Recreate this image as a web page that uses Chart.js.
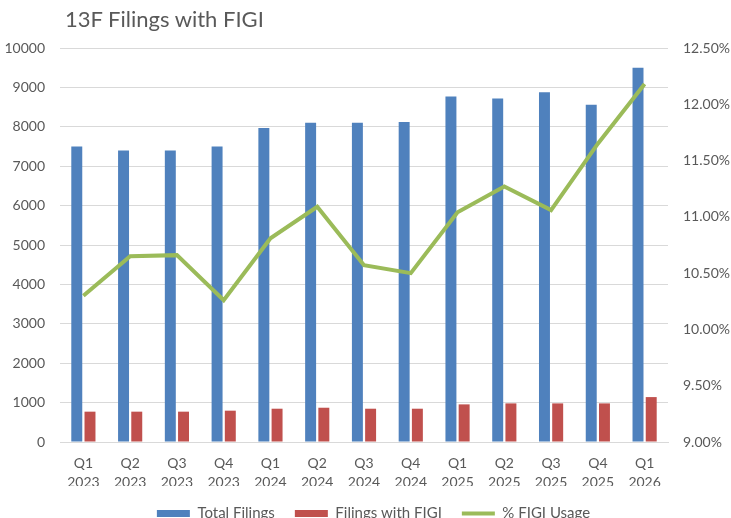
<!DOCTYPE html>
<html>
<head>
<meta charset="utf-8">
<script src="https://cdn.jsdelivr.net/npm/chart.js@4"></script>
<style>
  html, body { margin: 0; padding: 0; background: #fff; }
  #wrap { position: relative; width: 731px; height: 518px; overflow: hidden; }
  #title {
    position: absolute; left: 65px; top: 5px;
    font-family: Lato, sans-serif; font-size: 22px; color: #595959;
  }
  #chart { position: absolute; left: 0; top: 0; }
</style>
</head>
<body>
<div id="wrap">
  <canvas id="chart" width="731" height="518"></canvas>
  <div id="title">13F Filings with FIGI</div>
</div>
<script>
const quarters = [
    ['Q1', '2023'], ['Q2', '2023'], ['Q3', '2023'], ['Q4', '2023'],
    ['Q1', '2024'], ['Q2', '2024'], ['Q3', '2024'], ['Q4', '2024'],
    ['Q1', '2025'], ['Q2', '2025'], ['Q3', '2025'], ['Q4', '2025'],
    ['Q1', '2026']
];
const totalFilings = [7500, 7400, 7400, 7500, 7970, 8100, 8100, 8120, 8770, 8720, 8880, 8560, 9500];
const figiFilings = [770, 770, 770, 795, 845, 870, 845, 845, 955, 980, 980, 980, 1140];
const figiUsage = [10.30, 10.65, 10.66, 10.26, 10.81, 11.09, 10.57, 10.50, 11.04, 11.27, 11.06, 11.65, 12.18];

const grey = '#595959';
const font = { family: 'Lato, sans-serif', size: 14 };

// nudge the legend a bit to the right, like the original
const legendShift = {
    id: 'legendShift',
    afterLayout(chart) {
        chart.legend.left += 16;
    }
};

function createFigiChart() {
    const chart = document.getElementById('chart');
    new Chart(chart, {
        type: 'bar',
        data: {
            labels: quarters,
            datasets: [{
                label: 'Total Filings',
                data: totalFilings,
                backgroundColor: '#4F81BD',
                borderWidth: 0,
                pointStyle: 'rect',
                yAxisID: 'y',
                order: 1
            }, {
                label: 'Filings with FIGI',
                data: figiFilings,
                backgroundColor: '#C0504D',
                borderWidth: 0,
                pointStyle: 'rect',
                yAxisID: 'y',
                order: 1
            }, {
                type: 'line',
                label: '% FIGI Usage',
                data: figiUsage,
                borderColor: '#9BBB59',
                backgroundColor: '#9BBB59',
                borderWidth: 4,
                pointRadius: 0,
                pointStyle: 'line',
                tension: 0,
                yAxisID: 'y1',
                order: 0
            }]
        },
        options: {
            responsive: false,
            animation: false,
            layout: {
                padding: { top: 48, bottom: -13 }
            },
            datasets: {
                bar: {
                    categoryPercentage: 0.565,
                    barPercentage: 0.83
                }
            },
            scales: {
                x: {
                    grid: { display: false, drawTicks: false },
                    border: { color: '#d9d9d9' },
                    ticks: { color: grey, font: { ...font, lineHeight: 1.35 }, padding: 12, maxRotation: 0 },
                    afterFit: (s) => { s.height = 44; }
                },
                y: {
                    position: 'left',
                    min: 0,
                    max: 10000,
                    grid: { color: '#d9d9d9', drawTicks: false },
                    border: { display: false },
                    ticks: { stepSize: 1000, color: grey, font: font, padding: 15, callback: (v) => String(v) },
                    afterFit: (s) => { s.width = 60; }
                },
                y1: {
                    position: 'right',
                    min: 9,
                    max: 12.5,
                    grid: { display: false, drawTicks: false },
                    border: { display: false },
                    ticks: {
                        stepSize: 0.5,
                        color: grey,
                        font: font,
                        padding: 15,
                        callback: (v) => v.toFixed(2) + '%'
                    },
                    afterFit: (s) => { s.width = 63; }
                }
            },
            plugins: {
                title: { display: false },
                tooltip: { enabled: false },
                legend: {
                    position: 'bottom',
                    labels: {
                        sort: (a, b) => a.datasetIndex - b.datasetIndex,
                        usePointStyle: true,
                        pointStyleWidth: 33,
                        boxHeight: 7,
                        color: grey,
                        font: { ...font, size: 15 },
                        padding: 20
                    }
                }
            }
        },
        plugins: [legendShift]
    });
}

createFigiChart();
</script>
</body>
</html>
